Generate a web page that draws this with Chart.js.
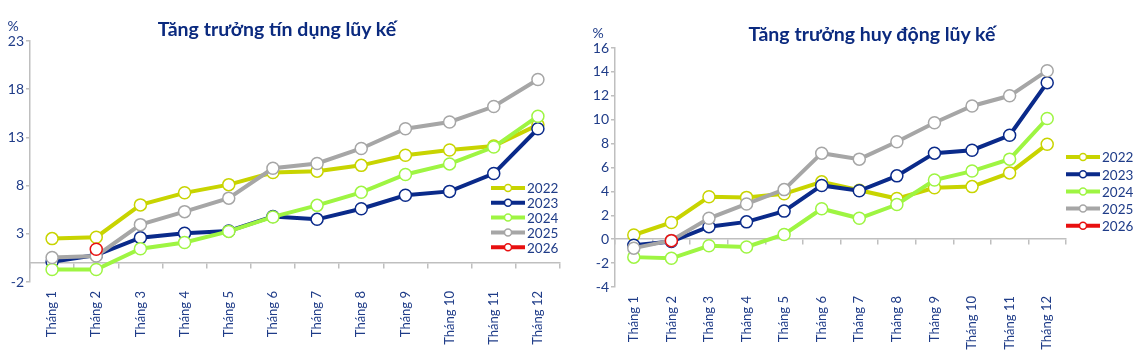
<!DOCTYPE html>
<html>
<head>
<meta charset="utf-8">
<script src="https://cdn.jsdelivr.net/npm/chart.js@4.4.1/dist/chart.umd.min.js"></script>
<style>
  body { margin: 0; background: #fff; width: 1136px; height: 350px; overflow: hidden; position: relative; font-family: Lato, sans-serif; }
  .box { position: absolute; top: 0; width: 568px; height: 350px; }
  .title { position: absolute; font: 700 19.5px Lato, sans-serif; color: #0b2a7f; white-space: nowrap; transform: translate(-50%, -50%); }
  .unit { position: absolute; font: 14px Lato, sans-serif; color: #1f3c88; transform: translate(-50%, -50%); }
</style>
</head>
<body>
<div class="box" style="left:0"><canvas id="credit" width="568" height="350"></canvas></div>
<div class="box" style="left:568px"><canvas id="deposit" width="568" height="350"></canvas></div>
<div class="title" style="left:277px; top:28px">Tăng trưởng tín dụng lũy kế</div>
<div class="title" style="left:872px; top:33px">Tăng trưởng huy động lũy kế</div>
<div class="unit" style="left:13px; top:25px">%</div>
<div class="unit" style="left:598px; top:32px">%</div>
<script>
// months
var months = ['Tháng 1','Tháng 2','Tháng 3','Tháng 4','Tháng 5','Tháng 6','Tháng 7','Tháng 8','Tháng 9','Tháng 10','Tháng 11','Tháng 12'];
var years = ['2022','2023','2024','2025','2026'];
var colors = ['#c8d400','#0a2a8a','#9ef542','#a6a6a6','#e81010'];

// credit growth (%)
var credit2022 = [2.5, 2.65, 6.0, 7.25, 8.1, 9.35, 9.5, 10.1, 11.15, 11.7, 12.1, 14.3];
var credit2023 = [0.1, 0.8, 2.6, 3.05, 3.3, 4.8, 4.5, 5.6, 7.0, 7.4, 9.25, 13.9];
var credit2024 = [-0.7, -0.7, 1.45, 2.1, 3.25, 4.75, 5.95, 7.3, 9.15, 10.25, 12.0, 15.2];
var credit2025 = [0.55, 0.7, 3.95, 5.3, 6.7, 9.8, 10.3, 11.85, 13.9, 14.6, 16.2, 19.0];
var credit2026 = [null, 1.4, null, null, null, null, null, null, null, null, null, null];

// deposit growth (%)
var deposit2022 = [0.35, 1.4, 3.55, 3.5, 3.8, 4.8, 4.1, 3.4, 4.3, 4.4, 5.55, 7.95];
var deposit2023 = [-0.5, -0.2, 1.05, 1.45, 2.35, 4.5, 4.05, 5.3, 7.2, 7.45, 8.7, 13.1];
var deposit2024 = [-1.5, -1.6, -0.55, -0.65, 0.4, 2.55, 1.75, 2.9, 4.95, 5.7, 6.7, 10.1];
var deposit2025 = [-0.75, -0.1, 1.75, 2.95, 4.15, 7.2, 6.7, 8.15, 9.75, 11.15, 12.0, 14.1];
var deposit2026 = [null, -0.12, null, null, null, null, null, null, null, null, null, null];

var creditTicks = [-2, 3, 8, 13, 18, 23];
var depositTicks = [-4, -2, 0, 2, 4, 6, 8, 10, 12, 14, 16];

var navyText = '#1f3c88';
var axisGray = '#bfbfbf';

// draws the little legend inside/next to the plot
var legendPlugin = {
    id: 'miniLegend',
    afterDraw: function(chart, args, opts){
        var ctx = chart.ctx;
        ctx.save();
        chart.data.datasets.forEach(function(ds, i){
            var y = opts.y + i*opts.step;
            ctx.strokeStyle = ds.borderColor;
            ctx.lineWidth = 4;
            ctx.beginPath();
            ctx.moveTo(opts.x, y);
            ctx.lineTo(opts.x + 34, y);
            ctx.stroke();
            ctx.beginPath();
            ctx.arc(opts.x + 17, y, 3.5, 0, Math.PI*2);
            ctx.fillStyle = '#fff';
            ctx.fill();
            ctx.lineWidth = 1.5;
            ctx.stroke();
            ctx.fillStyle = navyText;
            ctx.font = '13.5px Lato';
            ctx.textBaseline = 'middle';
            ctx.fillText(ds.label, opts.x + 36, y + 1);
        });
        ctx.restore();
    }
};

function makeSets(series){
    return series.map(function(vals, i){
        return {
            label: years[i],
            data: vals,
            order: series.length - i, // later years on top, like the original
            borderColor: colors[i],
            backgroundColor: colors[i],
            borderWidth: 4,
            pointRadius: 6,
            pointHoverRadius: 6,
            pointBackgroundColor: '#fff',
            pointBorderColor: colors[i],
            pointBorderWidth: 1.5,
            tension: 0
        };
    });
}

function makeChart(id, series, yTicks, box, legend){
    var step = yTicks[1] - yTicks[0];
    return new Chart(document.getElementById(id), {
        type: 'line',
        data: { labels: months, datasets: makeSets(series) },
        plugins: [legendPlugin],
        options: {
            responsive: false,
            animation: false,
            events: [],
            layout: { padding: { top: box.top, right: box.right, left: 0, bottom: 0 } },
            plugins: {
                legend: { display: false },
                tooltip: { enabled: false },
                miniLegend: legend
            },
            scales: {
                x: {
                    type: 'category',
                    position: { y: 0 },
                    offset: true,
                    border: { display: true, color: axisGray, width: 1.5 },
                    grid: { offset: true, drawOnChartArea: false, drawTicks: true, tickLength: 5, color: axisGray, lineWidth: 1.5 },
                    ticks: { display: false }
                },
                x2: {
                    type: 'category',
                    position: 'bottom',
                    offset: true,
                    border: { display: false },
                    grid: { display: false, drawTicks: false },
                    ticks: { autoSkip: false, minRotation: 90, maxRotation: 90, padding: 9, color: navyText, font: { family: 'Lato', size: 13 } },
                    afterFit: function(s){ s.height = box.bottom; }
                },
                y: {
                    min: yTicks[0],
                    max: yTicks[yTicks.length-1],
                    afterBuildTicks: function(s){ s.ticks = yTicks.map(function(v){ return { value: v }; }); },
                    ticks: { stepSize: step, padding: 2, color: navyText, font: { family: 'Lato', size: 14 } },
                    border: { display: true, color: axisGray, width: 1.5 },
                    grid: { drawOnChartArea: false, drawTicks: true, tickLength: 4, color: axisGray, lineWidth: 1.5 },
                    afterFit: function(s){ s.width = box.left; }
                }
            }
        }
    });
}

makeChart('credit', [credit2022, credit2023, credit2024, credit2025, credit2026], creditTicks,
    { top: 41, right: 8, bottom: 68, left: 30 }, { x: 491, y: 188, step: 14.8 });
makeChart('deposit', [deposit2022, deposit2023, deposit2024, deposit2025, deposit2026], depositTicks,
    { top: 48, right: 70, bottom: 63, left: 47 }, { x: 498, y: 157, step: 17.2 });
</script>
</body>
</html>
